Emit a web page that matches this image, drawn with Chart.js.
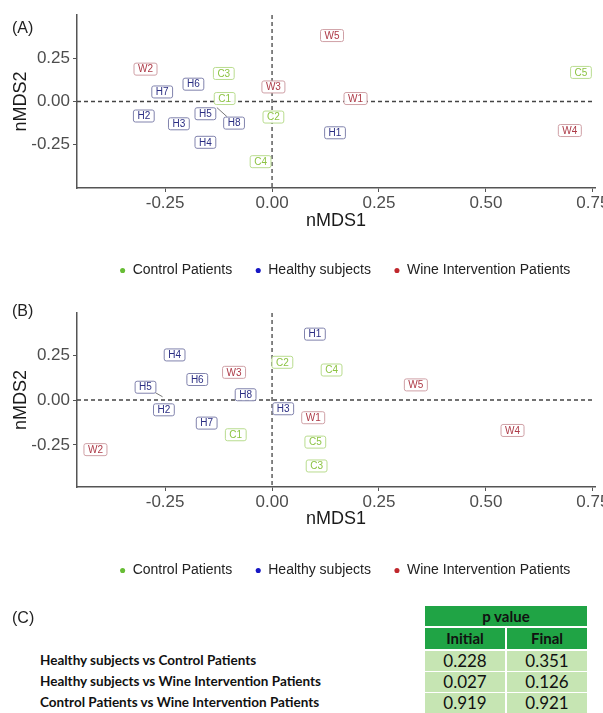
<!DOCTYPE html>
<html><head><meta charset="utf-8">
<script src="https://cdn.jsdelivr.net/npm/chart.js@4/dist/chart.umd.min.js"></script>
<style>
html,body{margin:0;padding:0;background:#fff;}
body{width:603px;height:713px;overflow:hidden;position:relative;font-family:"Liberation Sans",Arial,sans-serif;}
canvas{position:absolute;left:0;}
.tag{position:absolute;left:12px;font-size:16px;color:#222;line-height:16px;}
.cmp{position:absolute;left:40px;font-family:Lato,"Open Sans",sans-serif;font-weight:bold;font-size:13.5px;color:#111;line-height:15px;white-space:nowrap;}
.cell{position:absolute;text-align:center;font-family:Lato,"Open Sans",sans-serif;color:#111;}
.hd{background:#20a445;font-weight:bold;font-size:15px;}
.bd{background:#c6e5b3;font-size:17px;}
</style>
</head><body>
<canvas id="cA" width="603" height="290" style="top:0px"></canvas>
<canvas id="cB" width="603" height="300" style="top:290px"></canvas>
<div class="tag" style="top:20px">(A)</div>
<div class="tag" style="top:303px">(B)</div>
<div class="tag" style="top:610px">(C)</div>
<div id="tbl"></div>
<script>
// ---------- data ----------
const groupNames = ['Control Patients', 'Healthy subjects', 'Wine Intervention Patients'];
const xTicks = [-0.25, 0, 0.25, 0.5, 0.75];
const yTicks = [-0.25, 0, 0.25];

// Panel A (initial)
const aControlLabels = ['C1', 'C2', 'C3', 'C4', 'C5'];
const aControlX = [-0.112, 0.002, -0.114, -0.028, 0.721];
const aControlY = [0.020, -0.087, 0.165, -0.345, 0.171];
const aHealthyLabels = ['H1', 'H2', 'H3', 'H4', 'H5', 'H6', 'H7', 'H8'];
const aHealthyX = [0.146, -0.301, -0.219, -0.157, -0.157, -0.185, -0.258, -0.090];
const aHealthyY = [-0.178, -0.081, -0.126, -0.233, -0.068, 0.103, 0.058, -0.122];
const aWineLabels = ['W1', 'W2', 'W3', 'W4', 'W5'];
const aWineX = [0.194, -0.297, 0.002, 0.695, 0.139];
const aWineY = [0.020, 0.190, 0.087, -0.165, 0.384];
const aSegments = {H8: [-0.129, -0.035]};

// Panel B (final)
const bControlLabels = ['C1', 'C2', 'C3', 'C4', 'C5'];
const bControlX = [-0.086, 0.023, 0.103, 0.138, 0.100];
const bControlY = [-0.191, 0.213, -0.365, 0.170, -0.232];
const bHealthyLabels = ['H1', 'H2', 'H3', 'H4', 'H5', 'H6', 'H7', 'H8'];
const bHealthyX = [0.099, -0.254, 0.025, -0.229, -0.297, -0.176, -0.154, -0.063];
const bHealthyY = [0.370, -0.052, -0.046, 0.254, 0.074, 0.117, -0.126, 0.032];
const bWineLabels = ['W1', 'W2', 'W3', 'W4', 'W5'];
const bWineX = [0.095, -0.414, -0.090, 0.561, 0.335];
const bWineY = [-0.096, -0.274, 0.157, -0.167, 0.087];
const bSegments = {H5: [-0.256, 0.018]};

// Panel C table
const comparisons = ['Healthy subjects vs Control Patients', 'Healthy subjects vs Wine Intervention Patients', 'Control Patients vs Wine Intervention Patients'];
const pInitial = ['0.228', '0.027', '0.919'];
const pFinal = ['0.351', '0.126', '0.921'];

// ---------- styles ----------
const legendColors = ['#67bd35', '#1717c4', '#c0282d'];
const textColors = ['#8cc342', '#2b2e83', '#ad3a47'];
const borderColors = ['#b9dc8f', '#8183ad', '#cfa0a6'];

function pts(labels, xs, ys, segs) {
  return labels.map((l, i) => ({x: xs[i], y: ys[i], label: l, from: segs[l] || null}));
}

const labelPlugin = {
  id: 'repelLabels',
  afterLayout(chart) {
    if (chart.legend) { chart.legend.left += 9; chart.legend.right += 9; }
  },
  beforeDatasetsDraw(chart) {
    const {ctx, chartArea: a, scales: {x, y}} = chart;
    const x0 = x.getPixelForValue(0), y0 = y.getPixelForValue(0);
    ctx.save();
    ctx.strokeStyle = '#444'; ctx.lineWidth = 1.3; ctx.setLineDash([4, 3]);
    ctx.beginPath();
    ctx.moveTo(x0, a.top); ctx.lineTo(x0, a.bottom);
    ctx.moveTo(a.left, y0); ctx.lineTo(a.right, y0);
    ctx.stroke();
    ctx.restore();
  },
  afterDatasetsDraw(chart) {
    const {ctx, scales: {x, y}} = chart;
    ctx.save();
    ctx.font = '10px "Liberation Sans"';
    ctx.textAlign = 'center'; ctx.textBaseline = 'middle';
    chart.data.datasets.forEach((ds, di) => {
      const meta = chart.getDatasetMeta(di);
      meta.data.forEach((pt, i) => {
        const raw = ds.data[i];
        const tw = ctx.measureText(raw.label).width;
        const w = tw + 8, h = 12;
        const bx = pt.x - w / 2, by = pt.y - h / 2;
        if (raw.from) {
          const fx = x.getPixelForValue(raw.from[0]), fy = y.getPixelForValue(raw.from[1]);
          const dx = pt.x - fx, dy = pt.y - fy;
          let t = 1;
          if (Math.abs(dx) > 0) t = Math.min(t, (Math.abs(dx) - w / 2) / Math.abs(dx));
          if (Math.abs(dy) > 0) t = Math.max(Math.min(1, (Math.abs(dy) - h / 2) / Math.abs(dy)), t);
          ctx.strokeStyle = '#555'; ctx.lineWidth = 0.8; ctx.setLineDash([]);
          ctx.beginPath(); ctx.moveTo(fx, fy); ctx.lineTo(fx + dx * t, fy + dy * t); ctx.stroke();
        }
        ctx.beginPath();
        ctx.roundRect(bx + 0.5, by + 0.5, w, h, 2);
        ctx.fillStyle = 'rgba(255,255,255,0.95)';
        ctx.fill();
        ctx.strokeStyle = borderColors[di]; ctx.lineWidth = 1;
        ctx.stroke();
        ctx.fillStyle = textColors[di];
        ctx.fillText(raw.label, pt.x + 0.5, pt.y + 1);
      });
    });
    ctx.restore();
  }
};

function makeChart(id, sets, cfg) {
  const datasets = sets.map((d, i) => ({
    label: groupNames[i], data: d,
    pointRadius: 0, pointHoverRadius: 0, pointHitRadius: 0,
    pointBackgroundColor: legendColors[i], backgroundColor: legendColors[i],
    pointBorderWidth: 0, borderWidth: 0, pointStyle: 'circle'
  }));
  return new Chart(document.getElementById(id), {
    type: 'scatter',
    data: {datasets},
    options: {
      responsive: false, animation: false, devicePixelRatio: 1,
      events: [],
      layout: {padding: {left: 0, right: 8, top: cfg.top, bottom: 2.5}},
      plugins: {
        tooltip: {enabled: false},
        legend: {
          position: 'bottom', fullSize: false,
          labels: {
            usePointStyle: true, pointStyle: 'circle', boxWidth: 6, boxHeight: 3.6,
            padding: 23, color: '#222',
            font: {size: 14, family: '"Liberation Sans", Arial, sans-serif'}
          }
        }
      },
      scales: {
        x: {
          type: 'linear', min: -0.456, max: 0.755,
          afterBuildTicks: s => { s.ticks = xTicks.map(v => ({value: v})); },
          afterFit: s => { s.height = cfg.xh; s.paddingLeft = 0; s.paddingRight = 0; },
          ticks: {callback: v => Number(v).toFixed(2), color: '#4d4d4d', padding: 1, maxRotation: 0, autoSkip: false,
                  font: {size: 17, family: '"Liberation Sans", Arial, sans-serif'}},
          grid: {drawOnChartArea: false, drawTicks: true, tickLength: 4, color: '#555', lineWidth: 1},
          border: {display: true, color: '#555', width: 1.5},
          title: {display: true, text: 'nMDS1', color: '#1a1a1a', padding: {top: 0, bottom: cfg.tpad},
                  font: {size: 18, family: '"Liberation Sans", Arial, sans-serif'}}
        },
        y: {
          type: 'linear', min: cfg.ymin, max: cfg.ymax,
          afterBuildTicks: s => { s.ticks = yTicks.map(v => ({value: v})); },
          afterFit: s => { s.width = 77; s.paddingTop = 0; s.paddingBottom = 0; },
          ticks: {callback: v => Number(v).toFixed(2), color: '#4d4d4d', padding: 3, autoSkip: false,
                  font: {size: 17, family: '"Liberation Sans", Arial, sans-serif'}},
          grid: {drawOnChartArea: false, drawTicks: true, tickLength: 4, color: '#555', lineWidth: 1},
          border: {display: true, color: '#555', width: 1.5},
          title: {display: true, text: 'nMDS2', color: '#1a1a1a', padding: {top: 10, bottom: 0},
                  font: {size: 18, family: '"Liberation Sans", Arial, sans-serif'}}
        }
      }
    },
    plugins: [labelPlugin]
  });
}

makeChart('cA', [
  pts(aControlLabels, aControlX, aControlY, aSegments),
  pts(aHealthyLabels, aHealthyX, aHealthyY, aSegments),
  pts(aWineLabels, aWineX, aWineY, aSegments)
], {top: 15, xh: 52.5, tpad: 8.7, ymin: -0.5, ymax: 0.5});

makeChart('cB', [
  pts(bControlLabels, bControlX, bControlY, bSegments),
  pts(bHealthyLabels, bHealthyX, bHealthyY, bSegments),
  pts(bWineLabels, bWineX, bWineY, bSegments)
], {top: 23, xh: 53.5, tpad: 10.7, ymin: -0.485, ymax: 0.485});

// ---------- table (C) ----------
const tbl = document.getElementById('tbl');
function cell(cls, left, top, w, h, txt) {
  const d = document.createElement('div');
  d.className = 'cell ' + cls;
  d.style.cssText = `left:${left}px;top:${top}px;width:${w}px;height:${h}px;line-height:${h}px;`;
  d.textContent = txt;
  tbl.appendChild(d);
}
cell('hd', 425, 606, 162, 20, 'p value');
cell('hd', 425, 628, 80, 21, 'Initial');
cell('hd', 507, 628, 80, 21, 'Final');
const rowTops = [651, 672, 693];
comparisons.forEach((c, i) => {
  cell('bd', 425, rowTops[i], 80, 20, pInitial[i]);
  cell('bd', 507, rowTops[i], 80, 20, pFinal[i]);
  const d = document.createElement('div');
  d.className = 'cmp';
  d.style.top = (rowTops[i] + 2) + 'px';
  d.textContent = c;
  tbl.appendChild(d);
});
</script>
</body></html>
